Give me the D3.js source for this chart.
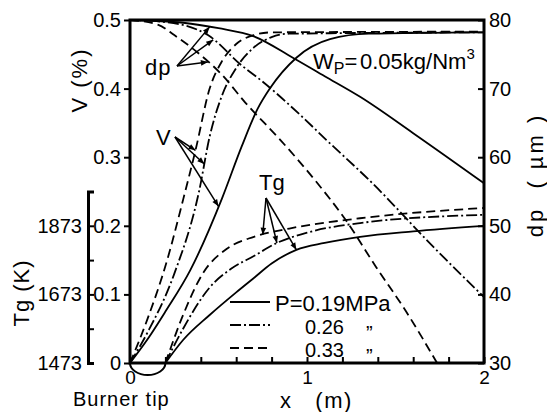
<!DOCTYPE html>
<html>
<head>
<meta charset="utf-8">
<style>
  body { margin: 0; background: #fff; }
  svg { display: block; font-family: 'Liberation Sans', Arial, sans-serif; }
  .axis text { font-size: 20px; fill: #000; }
  .axis line { stroke: #000; stroke-width: 2; }
  .curve { fill: none; stroke: #000; stroke-width: 1.8; }
  .lbl { font-size: 22px; fill: #000; }
</style>
</head>
<body>
<svg width="547" height="412"></svg>

<script src="https://d3js.org/d3.v7.min.js"></script>
<script>
// distance from burner x (m) vs value
// V (%) -- rising curves, start at burner tip
const vSolid   = [[0,0],[0.1,0.035],[0.2,0.075],[0.34,0.135],[0.52,0.24],[0.63,0.315],[0.72,0.37],[0.79,0.40],[0.94,0.445],[1.13,0.472],[1.35,0.48],[2,0.482]];
const vDashDot = [[0,0],[0.1,0.045],[0.25,0.13],[0.39,0.25],[0.45,0.33],[0.52,0.39],[0.6,0.43],[0.7,0.46],[0.8,0.475],[0.9,0.48],[2,0.482]];
const vDashed  = [[0,0],[0.1,0.065],[0.21,0.15],[0.3,0.238],[0.37,0.31],[0.45,0.40],[0.52,0.44],[0.6,0.465],[0.7,0.478],[0.8,0.482],[2,0.483]];

// dp (um) -- falling curves
const dpSolid   = [[0,80],[0.3,79.6],[0.5,78.8],[0.7,77.6],[0.92,74.5],[1.1,71.8],[1.3,68.8],[1.6,63.5],[2,56.2]];
const dpDashDot = [[0,80],[0.2,79.7],[0.44,77.8],[0.63,73.4],[0.75,71.0],[0.96,66.2],[1.11,62.5],[1.35,56.7],[1.73,46.5],[2,39.6]];
const dpDashed  = [[0,80],[0.16,79.3],[0.25,77.8],[0.38,75.3],[0.52,72.0],[0.65,68.0],[0.85,62.5],[1.05,56.5],[1.22,50.8],[1.39,44.0],[1.56,37.5],[1.735,30]];

// Tg (K) -- gas temperature, starts 0.2 m
const tgSolid   = [[0.2,1473],[0.3,1540],[0.45,1613],[0.6,1679],[0.7,1721],[0.8,1763],[0.94,1803],[1.1,1823],[1.3,1841],[1.6,1857],[2,1873]];
const tgDashDot = [[0.2,1473],[0.3,1573],[0.45,1693],[0.575,1749],[0.7,1785],[0.83,1823],[1.0,1853],[1.3,1881],[2,1905]];
const tgDashed  = [[0.2,1473],[0.3,1613],[0.41,1733],[0.55,1807],[0.7,1841],[0.9,1865],[1.3,1895],[2,1925]];

const vTicks = [0, 0.1, 0.2, 0.3, 0.4, 0.5];
const dpTicks = [30, 40, 50, 60, 70, 80];
const tgTicks = [1473, 1573, 1673, 1773, 1873, 1973];
const tgLabels = [1473, 1673, 1873];
const xTicks = [0, 0.2, 0.4, 0.6, 0.8, 1, 1.2, 1.4, 1.6, 1.8, 2];
const legendItems = ["P=0.19MPa", "0.26", "0.33"];

let svg = d3.select("svg");

let x = d3.scaleLinear().domain([0, 2]).range([130, 484]);
let yV = d3.scaleLinear().domain([0, 0.5]).range([363, 20]);
let yDp = d3.scaleLinear().domain([30, 80]).range([363, 20]);
let yTg = d3.scaleLinear().domain([1473, 1973]).range([363, yV(0.25)]);

let dashes = { solid: null, dashdot: "11,3,2,3", dashed: "9,5" };

// arrow head
svg.append("defs").append("marker")
    .attr("id", "ah")
    .attr("viewBox", "0 0 10 10")
    .attr("refX", 10).attr("refY", 5)
    .attr("markerWidth", 9).attr("markerHeight", 7)
    .attr("markerUnits", "userSpaceOnUse")
    .attr("orient", "auto")
    .append("path").attr("d", "M0,1 L10,5 L0,9 Z").attr("fill", "#000");

// axes
let vAxis = svg.append("g").attr("class", "axis")
    .attr("transform", "translate(130,0)")
    .call(d3.axisLeft(yV).tickValues(vTicks).tickSize(6).tickPadding(3).tickFormat(d3.format("")));
vAxis.select(".domain").remove();

let dpAxis = svg.append("g").attr("class", "axis")
    .attr("transform", "translate(484,0)")
    .call(d3.axisRight(yDp).tickValues(dpTicks).tickSizeInner(-6).tickSizeOuter(0).tickPadding(5));
dpAxis.select(".domain").remove();

let xAxis = svg.append("g").attr("class", "axis")
    .attr("transform", "translate(0,363)")
    .call(d3.axisBottom(x).tickValues(xTicks).tickSizeInner(-6).tickSizeOuter(0).tickPadding(7.5)
        .tickFormat(d => Number.isInteger(d) ? d : ""));
xAxis.select(".domain").remove();
xAxis.selectAll("text").style("font-size", "19px");

let tgAxis = svg.append("g").attr("class", "axis")
    .attr("transform", "translate(88,0)")
    .call(d3.axisLeft(yTg).tickValues(tgTicks).tickSizeInner(-6).tickSizeOuter(-6).tickPadding(6)
        .tickFormat(d => tgLabels.includes(d) ? d : ""));
tgAxis.select(".domain").attr("stroke", "#000").attr("stroke-width", 3).attr("fill", "none");

// frame
svg.append("rect")
    .attr("x", 130).attr("y", 20)
    .attr("width", 354).attr("height", 343)
    .attr("fill", "none").attr("stroke", "#000").attr("stroke-width", 3);

// burner tip arc
svg.append("path")
    .attr("d", `M${x(0)},${yV(0)} A ${(x(0.2) - x(0)) / 2} 12 0 0 0 ${x(0.2)},${yV(0)}`)
    .attr("fill", "none").attr("stroke", "#000").attr("stroke-width", 2);

// curves
let lineV = d3.line().x(d => x(d[0])).y(d => yV(d[1])).curve(d3.curveMonotoneX);
let lineDp = d3.line().x(d => x(d[0])).y(d => yDp(d[1])).curve(d3.curveMonotoneX);
let lineTg = d3.line().x(d => x(d[0])).y(d => yTg(d[1])).curve(d3.curveMonotoneX);

let series = [
    { data: vSolid, line: lineV, style: "solid" },
    { data: vDashDot, line: lineV, style: "dashdot" },
    { data: vDashed, line: lineV, style: "dashed" },
    { data: dpSolid, line: lineDp, style: "solid" },
    { data: dpDashDot, line: lineDp, style: "dashdot" },
    { data: dpDashed, line: lineDp, style: "dashed" },
    { data: tgSolid, line: lineTg, style: "solid" },
    { data: tgDashDot, line: lineTg, style: "dashdot" },
    { data: tgDashed, line: lineTg, style: "dashed" }
];

svg.selectAll(".curve")
    .data(series)
    .join("path")
    .attr("class", "curve")
    .attr("d", d => d.line(d.data))
    .attr("stroke-dasharray", d => dashes[d.style]);

// value on a series at xm (linear)
function at(data, xm) {
    for (let i = 1; i < data.length; i++) {
        if (xm <= data[i][0]) {
            let t = (xm - data[i - 1][0]) / (data[i][0] - data[i - 1][0]);
            return data[i - 1][1] + t * (data[i][1] - data[i - 1][1]);
        }
    }
    return data[data.length - 1][1];
}

function arrows(from, targets) {
    targets.forEach(t => {
        svg.append("line")
            .attr("x1", from[0]).attr("y1", from[1])
            .attr("x2", t[0]).attr("y2", t[1])
            .attr("stroke", "#000").attr("stroke-width", 1.5)
            .attr("marker-end", "url(#ah)");
    });
}

arrows([177, 66], [
    [x(0.45), yDp(at(dpSolid, 0.45))],
    [x(0.47), yDp(at(dpDashDot, 0.47))],
    [x(0.44), yDp(at(dpDashed, 0.44))]
]);
arrows([175, 137], [
    [x(0.37), yV(at(vDashed, 0.37))],
    [x(0.42), yV(at(vDashDot, 0.42))],
    [x(0.5), yV(at(vSolid, 0.5))]
]);
arrows([266, 198], [
    [x(0.75), yTg(at(tgDashed, 0.75))],
    [x(0.83), yTg(at(tgDashDot, 0.83))],
    [x(0.94), yTg(at(tgSolid, 0.94))]
]);

// annotation labels
svg.append("text").attr("class", "lbl").attr("x", 145).attr("y", 75)
    .style("letter-spacing", "1px").text("dp");
svg.append("text").attr("class", "lbl").attr("x", 156).attr("y", 145).text("V");
svg.append("text").attr("class", "lbl").attr("x", 259).attr("y", 190).text("Tg");

let wp = svg.append("text").attr("class", "lbl").attr("x", 313).attr("y", 69);
wp.append("tspan").text("W");
wp.append("tspan").attr("dy", 5).style("font-size", "16px").text("P");
wp.append("tspan").attr("dy", -5).text("=");
wp.append("tspan").attr("x", 360).text("0.05kg/Nm");
wp.append("tspan").attr("dy", -10).style("font-size", "15px").text("3");

// legend
let legend = svg.append("g");
["solid", "dashdot", "dashed"].forEach((s, i) => {
    let ly = [302, 325, 348][i];
    legend.append("line")
        .attr("x1", 230).attr("x2", 270)
        .attr("y1", ly).attr("y2", ly)
        .attr("stroke", "#000").attr("stroke-width", 1.8)
        .attr("stroke-dasharray", dashes[s]);
    legend.append("text").attr("class", "lbl")
        .attr("x", i == 0 ? 275 : 305)
        .attr("y", ly + 9)
        .style("font-size", i == 0 ? "22px" : "20px")
        .text(legendItems[i]);
    if (i > 0) {
        legend.append("text").attr("class", "lbl")
            .attr("x", 366).attr("y", ly + 15)
            .style("font-size", "20px")
            .text("\u201D");
    }
});

// axis titles
svg.append("text").attr("class", "lbl")
    .attr("transform", "translate(79,80) rotate(-90)")
    .attr("text-anchor", "middle").attr("dominant-baseline", "central")
    .style("letter-spacing", "2px")
    .text("V (%)");
svg.append("text").attr("class", "lbl")
    .attr("transform", "translate(21,293) rotate(-90)")
    .attr("text-anchor", "middle").attr("dominant-baseline", "central")
    .style("letter-spacing", "1px")
    .text("Tg (K)");
svg.append("text").attr("class", "lbl")
    .attr("transform", "translate(535,175) rotate(-90)")
    .attr("text-anchor", "middle").attr("dominant-baseline", "central")
    .style("letter-spacing", "3px").style("white-space", "pre")
    .text("dp  ( \u00B5m )");
svg.append("text").attr("class", "lbl")
    .attr("x", 280).attr("y", 408)
    .style("white-space", "pre").style("letter-spacing", "1.5px")
    .text("x   (m)");
svg.append("text").attr("class", "lbl")
    .attr("x", 73).attr("y", 406)
    .style("font-size", "20px").style("letter-spacing", "1px")
    .text("Burner tip");
</script>
</body>
</html>
